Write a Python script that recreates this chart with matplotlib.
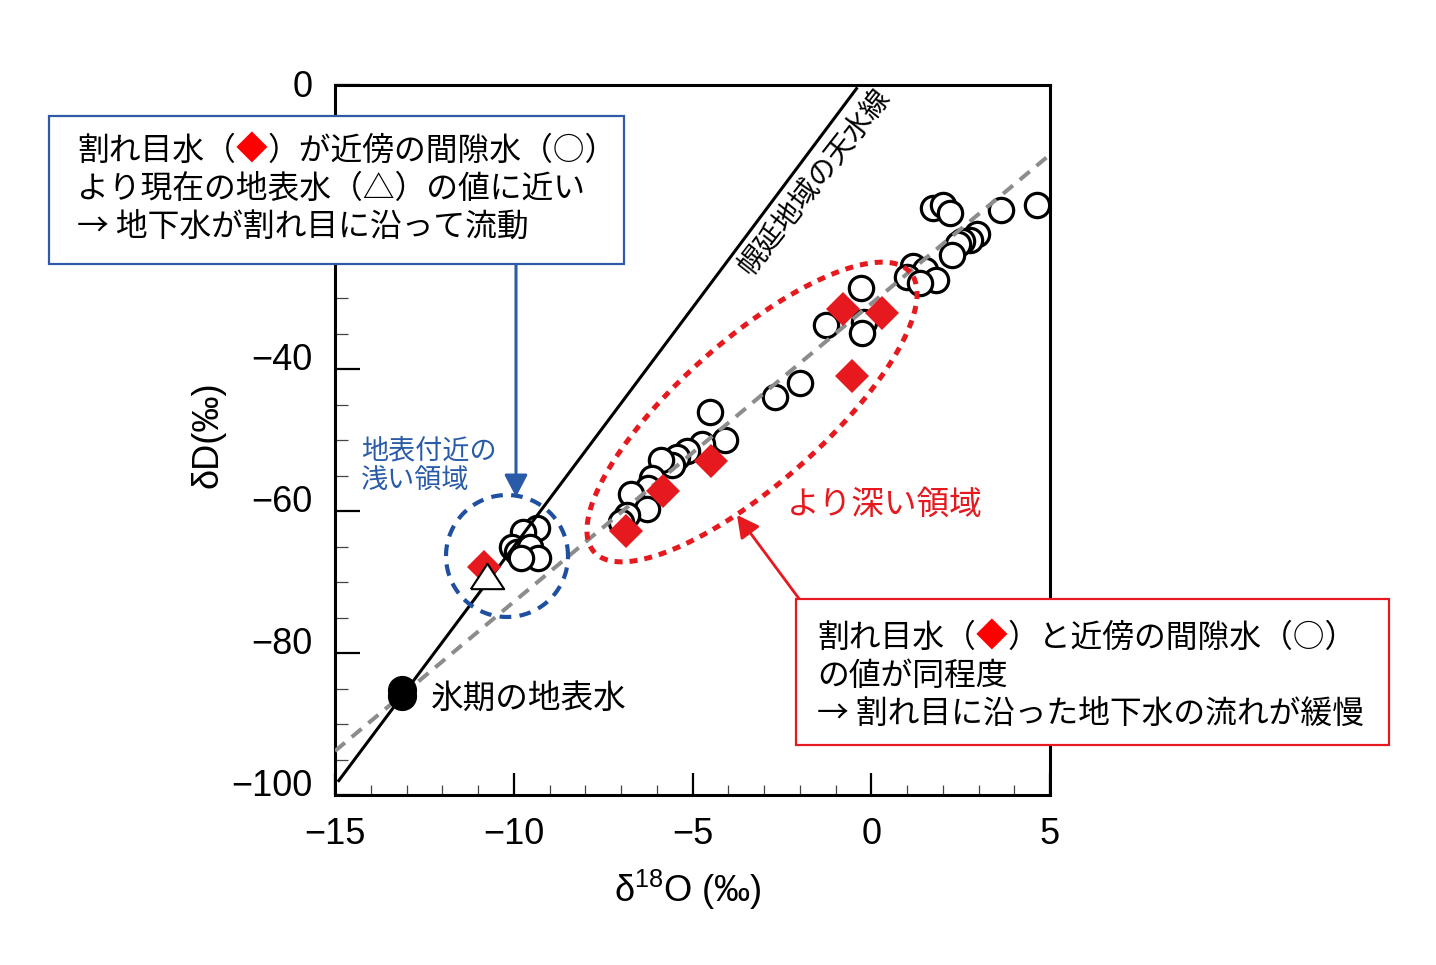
import numpy as np
import matplotlib
matplotlib.use("Agg")
import matplotlib.pyplot as plt
from matplotlib.patches import Rectangle
from matplotlib.transforms import ScaledTranslation

# ---------------- data ----------------
pore_d18O = [1.73, 2.01, 2.20, 3.63, 4.64, 2.96, 2.76, 2.54, 2.43, 2.26,
             1.17, 1.50, 1.00, 1.81, 1.36,
             -0.29, -1.27, -0.20, -0.26, -1.99, -2.69,
             -4.51, -4.09, -4.73, -5.15, -5.43, -5.57, -5.88, -6.13, -6.24,
             -6.72, -6.27, -6.83, -7.00,
             -9.35, -9.74, -10.05, -9.91, -9.55, -9.32, -9.80]
pore_dD = [-17.3, -16.9, -18.0, -17.6, -16.9, -21.0, -21.8, -22.0, -22.4, -23.9,
           -25.5, -26.1, -27.0, -27.5, -27.9,
           -28.6, -33.8, -33.4, -34.9, -42.0, -43.9,
           -46.1, -50.0, -50.6, -51.5, -52.4, -53.5, -52.8, -55.4, -56.8,
           -57.6, -59.7, -60.6, -61.5,
           -62.4, -63.0, -65.1, -65.8, -65.1, -66.6, -66.6]
frac_d18O = [-0.79, 0.30, -0.54, -4.48, -5.83, -6.86, -10.83]
frac_dD = [-31.5, -32.1, -41.0, -53.0, -57.2, -62.8, -67.9]
surf_d18O = [-10.75]
surf_dD = [-69.1]
glacial_d18O = [-13.13, -13.13]
glacial_dD = [-85.2, -86.0]

mwl_slope, mwl_icpt = 6.73, 2.27        # 幌延地域の天水線
mix_slope, mix_icpt = 4.20, -30.8       # gray dashed line

xlim = (-15, 5)
ylim = (-100, 0)
xticks = [-15, -10, -5, 0, 5]
yticks = [-100, -80, -60, -40, -20, 0]
yticklabels = ["\u2212100", "\u221280", "\u221260", "\u221240", "", "0"]

box1_lines = [[("割れ目水（", "k"), ("◆", "red"), ("）が近傍の間隙水（○）", "k")],
              [("より現在の地表水（△）の値に近い", "k")],
              [("→ 地下水が割れ目に沿って流動", "k")]]
box2_lines = [[("割れ目水（", "k"), ("◆", "red"), ("）と近傍の間隙水（○）", "k")],
              [("の値が同程度", "k")],
              [("→ 割れ目に沿った地下水の流れが緩慢", "k")]]

# ---------------- style ----------------
W, H = 1436, 965
RED = "#e5191e"
BLUE = "#1f4f9f"
BLUE_T = "#2a5ba8"
GRAY = "#8c8c8c"

num_font = "Liberation Sans"
JP = ["Noto Sans CJK JP", "DejaVu Sans"]
NUM = [num_font, "Noto Sans CJK JP", "DejaVu Sans"]
plt.rcParams["font.family"] = NUM
plt.rcParams["mathtext.fontset"] = "custom"
plt.rcParams["mathtext.rm"] = num_font

fig = plt.figure(figsize=(W / 100, H / 100), dpi=100)
ax = fig.add_axes([335 / W, 1 - 795 / H, (1050 - 335) / W, (795 - 85) / H])
ax.set_xlim(*xlim)
ax.set_ylim(*ylim)

for s in ax.spines.values():
    s.set_linewidth(2.2)
ax.set_xticks(xticks)
ax.set_yticks(yticks)
ax.set_yticklabels(yticklabels)
ax.set_xticks(np.arange(-15, 5.01, 1), minor=True)
ax.set_yticks(np.arange(-100, 0.01, 5), minor=True)
ax.tick_params(which="major", direction="in", length=16, width=1.6,
               labelsize=26, pad=16, top=False, right=False)
ax.tick_params(which="minor", direction="in", length=7, width=0.9,
               color="#444444", top=False, right=False)
ax.tick_params(axis="y", which="major", length=18)
ax.tick_params(axis="y", which="minor", length=9)

# y tick labels sit slightly above their ticks in the reference
for lab, v in zip(ax.get_yticklabels(), yticks):
    dy = 2 if v == 0 else 12
    lab.set_transform(lab.get_transform() + ScaledTranslation(0, dy / 100, fig.dpi_scale_trans))

# lines
xx = np.array([-14.92, (0 - mwl_icpt) / mwl_slope - 0.05])
ax.plot(xx, mwl_slope * xx + mwl_icpt, color="k", lw=2.2, zorder=3, solid_capstyle="butt")
xm = np.array(xlim)
ax.plot(xm, mix_slope * xm + mix_icpt, color=GRAY, lw=2.9, dashes=(3.2, 2.2), zorder=3)

# markers
tri = [(-1, -0.76), (1, -0.76), (0, 0.76), (-1, -0.76)]
ax.plot(pore_d18O, pore_dD, "o", ms=17.5, mfc="white", mec="k", mew=2.3, zorder=2, ls="none")
ax.plot(frac_d18O, frac_dD, "D", ms=17, mfc=RED, mec=RED, mew=0, zorder=4, ls="none")
ax.plot(surf_d18O, surf_dD, marker=tri, ms=24, mfc="white", mec="k", mew=1.5, zorder=5, ls="none")
ax.plot(glacial_d18O, glacial_dD, "o", ms=20, mfc="k", mec="k", zorder=5, ls="none")

# dotted regions (ellipse in screen space converted to data)
sx = (xlim[1] - xlim[0]) / (1050 - 335)   # data per px
sy = (ylim[1] - ylim[0]) / (795 - 85)


def p2d(px, py):
    return (xlim[0] + (px - 335) * sx, ylim[1] - (py - 85) * sy)


t = np.linspace(0, 2 * np.pi, 400)
bc = p2d(507, 556)
ax.plot(bc[0] + 61 * sx * np.cos(t), bc[1] + 61 * sy * np.sin(t), color=BLUE, lw=3.0,
        dashes=(2.8, 2.0), zorder=6, clip_on=False)
rc = p2d(752, 412)
ang = np.deg2rad(41.5)
a, b = 211, 72
ex = a * np.cos(t) * np.cos(ang) - b * np.sin(t) * np.sin(ang)
ey = a * np.cos(t) * np.sin(ang) + b * np.sin(t) * np.cos(ang)
ax.plot(rc[0] + ex * sx, rc[1] + ey * sy, color=RED, lw=3.6, dashes=(1.6, 1.4), zorder=6)

# text in axes
ax.text(*p2d(361, 466), "地表付近の\n浅い領域", color=BLUE_T, fontsize=19.5, family=JP,
        va="center", ha="left", linespacing=1.13, zorder=7)
ax.text(*p2d(787, 505), "より深い領域", color=RED, fontsize=23.5, family=JP, va="center", ha="left", zorder=7)
ax.text(*p2d(431, 700), "氷期の地表水", color="k", fontsize=23.5, family=JP, va="center", ha="left", zorder=7)
ax.text(*p2d(814, 182), "幌延地域の天水線", color="k", fontsize=20.5, family=JP, rotation=52,
        va="center", ha="center", rotation_mode="anchor", zorder=7)

# axis labels
fig.text(688 / W, 1 - 890 / H, "δ$^{\\mathregular{18}}$O (‰)", fontsize=26, ha="center", va="center")
fig.text(208 / W, 1 - 435 / H, "δD(‰)", fontsize=26, ha="center", va="center", rotation=90)

# boxes
renderer = fig.canvas.get_renderer()


def box(x0, y0, x1, y1, ec, lines, tx, ty0, dy):
    r = Rectangle((x0 / W, 1 - y1 / H), (x1 - x0) / W, (y1 - y0) / H, transform=fig.transFigure,
                  facecolor="white", edgecolor=ec, lw=1.6, zorder=10)
    fig.add_artist(r)
    for i, pieces in enumerate(lines):
        x = tx / W
        y = 1 - (ty0 + i * dy) / H
        for txt, col in pieces:
            tt = fig.text(x, y, txt, color=col, fontsize=22.9, family=JP, va="center", ha="left", zorder=11)
            x += tt.get_window_extent(renderer).width / W


box(49, 116, 624, 264, "#2f5aa8", box1_lines, 77, 151, 38)
box(796, 599, 1389, 745, RED, box2_lines, 817, 638, 38)

# arrows
ax.annotate("", xy=p2d(516, 497), xytext=p2d(516, 264), xycoords="data", annotation_clip=False,
            arrowprops=dict(arrowstyle="-|>,head_length=0.42,head_width=0.22", color="#2a5ba8",
                            lw=2.2, mutation_scale=32, shrinkA=0, shrinkB=0), zorder=9)
ax.annotate("", xy=p2d(737, 515), xytext=p2d(800, 600), xycoords="data", annotation_clip=False,
            arrowprops=dict(arrowstyle="-|>,head_length=0.42,head_width=0.22", color=RED,
                            lw=2.0, mutation_scale=32, shrinkA=0, shrinkB=0), zorder=9)

fig.savefig("out.png", dpi=100)
